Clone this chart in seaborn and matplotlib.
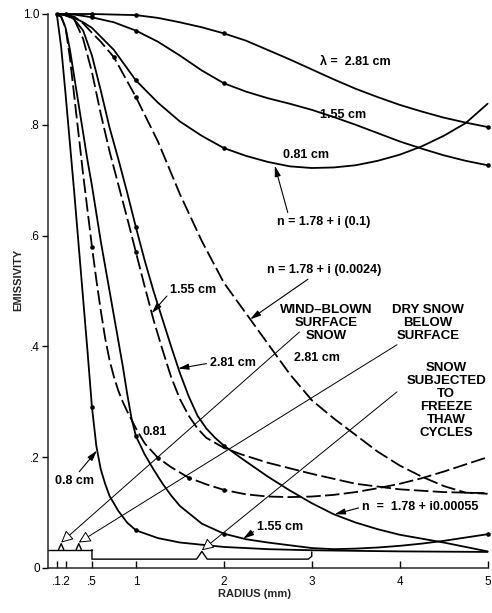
import matplotlib
matplotlib.use("Agg")
import matplotlib.pyplot as plt
import seaborn as sns

# ---- emissivity vs. grain radius (mm) ----
# n = 1.78 + i(0.1)  (solid, computed points marked)
r_hi_281 = [0.1, 0.2, 0.5, 1.0, 1.25, 1.5, 1.75, 2.0, 2.25, 2.5, 2.75, 3.0, 3.25, 3.5, 3.75, 4.0, 4.25, 4.5, 4.75, 5.0]
e_hi_281 = [1.0, 1.0, 1.0, 0.998, 0.993, 0.985, 0.976, 0.965, 0.952, 0.935, 0.918, 0.90, 0.882, 0.865, 0.850, 0.836, 0.824, 0.813, 0.804, 0.796]
r_hi_155 = [0.1, 0.2, 0.3, 0.5, 0.75, 1.0, 1.25, 1.5, 1.75, 2.0, 2.25, 2.5, 2.75, 3.0, 3.25, 3.5, 3.75, 4.0, 4.25, 4.5, 4.75, 5.0]
e_hi_155 = [1.0, 1.0, 0.999, 0.994, 0.985, 0.97, 0.95, 0.925, 0.898, 0.875, 0.860, 0.848, 0.838, 0.827, 0.814, 0.800, 0.785, 0.770, 0.757, 0.745, 0.735, 0.727]
r_hi_081 = [0.1, 0.2, 0.3, 0.4, 0.5, 0.75, 1.0, 1.25, 1.5, 1.75, 2.0, 2.25, 2.5, 2.75, 3.0, 3.25, 3.5, 3.75, 4.0, 4.25, 4.5, 4.75, 5.0]
e_hi_081 = [1.0, 0.998, 0.993, 0.985, 0.975, 0.935, 0.88, 0.84, 0.806, 0.78, 0.758, 0.744, 0.733, 0.725, 0.722, 0.723, 0.727, 0.735, 0.746, 0.761, 0.78, 0.803, 0.838]

# n = 1.78 + i(0.0024)  (dashed)
r_md_281 = [0.2, 0.3, 0.4, 0.5, 0.6, 0.75, 1.0, 1.25, 1.5, 1.75, 2.0, 2.25, 2.5, 2.75, 3.0, 3.25, 3.5, 3.75, 4.0, 4.25, 4.5, 4.75, 5.0]
e_md_281 = [1.0, 0.995, 0.983, 0.966, 0.95, 0.922, 0.85, 0.77, 0.675, 0.59, 0.515, 0.46, 0.405, 0.35, 0.303, 0.27, 0.24, 0.21, 0.185, 0.165, 0.148, 0.136, 0.134]
r_md_155 = [0.1, 0.2, 0.3, 0.4, 0.5, 0.6, 0.7, 0.8, 0.9, 1.0, 1.1, 1.2, 1.3, 1.4, 1.5, 1.6, 1.7, 1.8, 2.0, 2.2, 2.5, 3.0, 3.5, 4.0, 4.5, 5.0]
e_md_155 = [1.0, 0.998, 0.99, 0.955, 0.895, 0.82, 0.752, 0.692, 0.632, 0.57, 0.508, 0.448, 0.395, 0.345, 0.305, 0.275, 0.252, 0.235, 0.217, 0.205, 0.19, 0.17, 0.152, 0.142, 0.137, 0.135]
r_md_081 = [0.1, 0.15, 0.2, 0.25, 0.3, 0.35, 0.4, 0.45, 0.5, 0.55, 0.6, 0.65, 0.7, 0.75, 0.8, 0.85, 0.9, 1.0, 1.1, 1.25, 1.4, 1.6, 1.8, 2.0, 2.25, 2.5, 2.75, 3.0, 3.25, 3.5, 3.75, 4.0, 4.25, 4.5, 4.75, 5.0]
e_md_081 = [1.0, 0.995, 0.975, 0.92, 0.85, 0.78, 0.71, 0.645, 0.58, 0.52, 0.465, 0.415, 0.375, 0.345, 0.32, 0.3, 0.283, 0.252, 0.225, 0.199, 0.182, 0.163, 0.151, 0.141, 0.133, 0.129, 0.128, 0.129, 0.132, 0.137, 0.144, 0.152, 0.162, 0.174, 0.187, 0.20]

# n = 1.78 + i0.00055  (solid)
r_lo_281 = [0.2, 0.3, 0.4, 0.5, 0.6, 0.7, 0.8, 0.9, 1.0, 1.1, 1.2, 1.3, 1.4, 1.5, 1.6, 1.7, 1.8, 1.9, 2.0, 2.2, 2.5, 2.75, 3.0, 3.25, 3.5, 3.75, 4.0, 4.5, 5.0]
e_lo_281 = [1.0, 0.99, 0.97, 0.925, 0.862, 0.795, 0.738, 0.678, 0.615, 0.555, 0.50, 0.45, 0.40, 0.352, 0.31, 0.275, 0.252, 0.235, 0.221, 0.198, 0.165, 0.14, 0.117, 0.097, 0.082, 0.07, 0.06, 0.046, 0.03]
r_lo_155 = [0.1, 0.15, 0.2, 0.25, 0.3, 0.35, 0.4, 0.45, 0.5, 0.55, 0.6, 0.65, 0.7, 0.75, 0.8, 0.85, 0.9, 0.95, 1.0, 1.1, 1.2, 1.3, 1.4, 1.5, 1.75, 2.0, 2.25, 2.5, 2.75, 3.0, 3.25, 3.5, 3.75, 4.0, 4.25, 4.5, 4.75, 5.0]
e_lo_155 = [1.0, 0.995, 0.975, 0.935, 0.885, 0.835, 0.785, 0.735, 0.69, 0.64, 0.59, 0.545, 0.5, 0.455, 0.41, 0.365, 0.315, 0.27, 0.238, 0.205, 0.178, 0.153, 0.131, 0.112, 0.08, 0.062, 0.052, 0.046, 0.041, 0.036, 0.034, 0.035, 0.037, 0.04, 0.044, 0.049, 0.055, 0.061]
r_lo_080 = [0.1, 0.15, 0.2, 0.25, 0.3, 0.35, 0.4, 0.45, 0.5, 0.55, 0.6, 0.65, 0.7, 0.8, 0.9, 1.0, 1.25, 1.5, 1.75, 2.0, 2.5, 3.0, 4.0, 5.0]
e_lo_080 = [1.0, 0.94, 0.855, 0.765, 0.675, 0.58, 0.485, 0.39, 0.29, 0.22, 0.178, 0.152, 0.13, 0.103, 0.082, 0.068, 0.054, 0.046, 0.042, 0.038, 0.034, 0.032, 0.030, 0.029]

# radii at which computed points are marked
dots_hi_281 = [0.1, 0.2, 0.5, 1.0, 2.0, 5.0]
dots_hi_155 = [0.5, 1.0, 2.0, 5.0]
dots_hi_081 = [1.0, 2.0]
dots_md_281 = [0.75, 1.0]
dots_md_155 = [1.0]
dots_md_081 = [0.5, 1.25, 1.6, 2.0]
dots_lo_281 = [1.0, 2.0]
dots_lo_155 = [1.0, 2.0, 5.0]
dots_lo_080 = [0.5, 1.0]

# observed grain-size ranges (mm)
range_wind = [0.1, 0.2]
range_dry = [0.2, 0.5]
range_freeze = [0.5, 3.0]

x_ticks = [0.1, 0.2, 0.5, 1, 2, 3, 4, 5]
x_tick_labels = [".1", ".2", ".5", "1", "2", "3", "4", "5"]
y_ticks = [0, 0.2, 0.4, 0.6, 0.8, 1.0]
y_tick_labels = ["0", ".2", ".4", ".6", ".8", "1.0"]

sns.set_theme(style="ticks")
plt.rcParams["font.family"] = ["Liberation Sans", "DejaVu Sans"]

W, H = 492, 613
fig = plt.figure(figsize=(W / 100, H / 100), dpi=100)
ax = fig.add_axes([48 / W, 45 / H, 444 / W, 554 / H])
ax.set_xlim(0, 5.05)
ax.set_ylim(0, 1.0)

LW = 1.3
DASH = (0, (8, 2.4))


def curve(r, e, dots, dashed=False):
    sns.lineplot(x=r, y=e, ax=ax, color="black", lw=LW,
                 linestyle=DASH if dashed else "-", sort=False,
                 estimator=None, legend=False, clip_on=False)
    pts = [(x, y) for x, y in zip(r, e) if x in dots]
    if pts:
        sns.scatterplot(x=[p[0] for p in pts], y=[p[1] for p in pts], ax=ax,
                        color="black", s=11, linewidth=0, zorder=4,
                        legend=False, clip_on=False)


curve(r_hi_281, e_hi_281, dots_hi_281)
curve(r_hi_155, e_hi_155, dots_hi_155)
curve(r_hi_081, e_hi_081, dots_hi_081)
curve(r_md_281, e_md_281, dots_md_281, dashed=True)
curve(r_md_155, e_md_155, dots_md_155, dashed=True)
curve(r_md_081, e_md_081, dots_md_081, dashed=True)
curve(r_lo_281, e_lo_281, dots_lo_281)
curve(r_lo_155, e_lo_155, dots_lo_155)
curve(r_lo_080, e_lo_080, dots_lo_080)

# size-range braces along the bottom
yb1, yb2, nb = 0.033, 0.016, 0.011
k = dict(color="black", lw=1.0, clip_on=False)
ax.plot([0, range_wind[1]], [yb1, yb1], **k)
ax.plot([range_dry[0], range_dry[1]], [yb1, yb1], **k)
for a, b in (range_wind, range_dry):
    m = (a + b) / 2
    ax.plot([m - 0.03, m, m + 0.03], [yb1, yb1 + nb, yb1], **k)
f0, f1 = range_freeze
fm = (f0 + f1) / 2
ax.plot([f0, f0, fm - 0.06, fm, fm + 0.06, f1 - 0.04, f1, f1],
        [yb1, yb2, yb2, yb2 + 0.014, yb2, yb2, yb2 + 0.005, yb1 - 0.004], **k)

# axes styling
for s in ("top", "right"):
    ax.spines[s].set_visible(False)
ax.spines["left"].set_linewidth(1.1)
ax.spines["bottom"].set_linewidth(1.1)
ax.spines["bottom"].set_bounds(0, 5)
ax.set_xticks(x_ticks)
ax.set_xticklabels(x_tick_labels)
ax.set_yticks(y_ticks)
ax.set_yticklabels(y_tick_labels)
ax.tick_params(axis="x", direction="in", length=5, width=1.0, pad=6,
               labelsize=8.5, colors="black")
ax.tick_params(axis="y", direction="out", length=4, width=1.0, pad=2,
               labelsize=8.5, colors="black")
ax.set_xlabel("RADIUS (mm)", fontsize=8, fontweight="bold")
ax.set_ylabel("EMISSIVITY", fontsize=8, fontweight="bold")
ax.xaxis.set_label_coords(0.466, -0.038)
ax.yaxis.set_label_coords(-0.056, 0.52)

TF = dict(fontsize=9, fontweight="bold", color="black")
ax.text(3.09, 0.913, "\u03bb =  2.81 cm", ha="left", va="center", **TF)
ax.text(3.09, 0.818, "1.55 cm", ha="left", va="center", **TF)
ax.text(2.67, 0.745, "0.81 cm", ha="left", va="center", **TF)

fill = dict(arrowstyle="-|>,head_length=0.7,head_width=0.2", color="black",
            lw=0.8, shrinkA=0, shrinkB=0)
open_ = dict(arrowstyle="-|>,head_length=0.6,head_width=0.3", fc="white",
             ec="black", lw=0.7, shrinkA=0, shrinkB=0)

ax.annotate("n = 1.78 + i (0.1)", xy=(2.58, 0.726), xytext=(2.61, 0.625),
            ha="left", va="center", arrowprops=dict(fill, relpos=(0.12, 1.0)), **TF)
ax.annotate("n = 1.78 + i (0.0024)", xy=(2.3, 0.449), xytext=(2.49, 0.538),
            ha="left", va="center", arrowprops=dict(fill, relpos=(0.4, 0.0)), **TF)
ax.annotate("1.55 cm", xy=(1.18, 0.46), xytext=(1.39, 0.502),
            ha="left", va="center", arrowprops=dict(fill, relpos=(0.0, 0.3)), **TF)
ax.annotate("2.81 cm", xy=(1.48, 0.36), xytext=(1.84, 0.37),
            ha="left", va="center", arrowprops=dict(fill, relpos=(0.0, 0.5)), **TF)
ax.text(1.08, 0.245, "0.81", ha="left", va="center", **TF)
ax.annotate("0.8 cm", xy=(0.557, 0.212), xytext=(0.08, 0.157),
            ha="left", va="center", arrowprops=dict(fill, relpos=(0.55, 1.0)), **TF)
ax.annotate("1.55 cm", xy=(2.22, 0.053), xytext=(2.375, 0.074),
            ha="left", va="center", arrowprops=dict(fill, relpos=(0.0, 0.3)), **TF)
ax.annotate("n  =  1.78 + i0.00055", xy=(3.26, 0.097), xytext=(3.57, 0.11),
            ha="left", va="center", arrowprops=dict(fill, relpos=(0.0, 0.5)), **TF)

BF = dict(fontsize=9.5, fontweight="bold", color="black", linespacing=1.1,
          ha="center")
ax.text(3.16, 0.442, "WIND\u2013BLOWN\nSURFACE\nSNOW", va="center", **BF)
ax.text(3.06, 0.379, "2.81 cm", ha="center", va="center", **TF)
ax.text(4.32, 0.442, "DRY SNOW\nBELOW\nSURFACE", va="center", **BF)
ax.text(4.53, 0.302, "SNOW\nSUBJECTED\nTO\nFREEZE\nTHAW\nCYCLES", va="center", **BF)

# pointers from the snow-type labels to the size ranges
ax.annotate("", xy=((range_wind[0] + range_wind[1]) / 2, yb1 + nb + 0.002),
            xytext=(2.86, 0.426), arrowprops=open_)
ax.annotate("", xy=((range_dry[0] + range_dry[1]) / 2, yb1 + nb + 0.002),
            xytext=(3.97, 0.403), arrowprops=open_)
ax.annotate("", xy=(fm, yb2 + 0.016), xytext=(3.97, 0.318), arrowprops=open_)

fig.savefig("out.png", dpi=100, facecolor="white")
